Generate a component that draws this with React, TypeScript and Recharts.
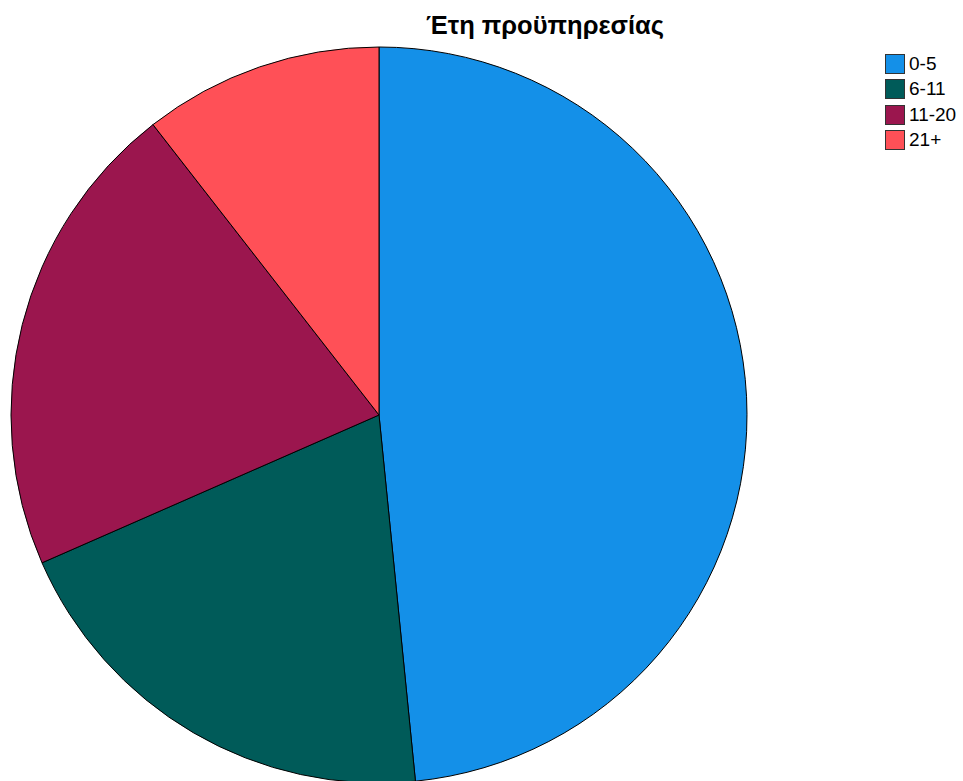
import { Cell, Pie, PieChart } from "recharts";

const categories = ["0-5", "6-11", "11-20", "21+"];
const counts = [46, 19, 20, 10];
const colors = ["#1490E8", "#005B59", "#9B164E", "#FF5057"];
const title = "Έτη προϋπηρεσίας";

const data = categories.map((name, i) => ({ name, value: counts[i] }));

const font = "'Liberation Sans', Arial, sans-serif";

function LegendBox() {
  return (
    <div style={{ position: "absolute", left: 885, top: 51 }}>
      {categories.map((c, i) => (
        <div
          key={c}
          style={{ display: "flex", alignItems: "center", height: 25.5 }}
        >
          <span
            style={{
              width: 20,
              height: 20,
              background: colors[i],
              border: "1.5px solid #333",
              boxSizing: "border-box",
              marginRight: 4,
            }}
          />
          <span style={{ fontFamily: font, fontSize: 19, color: "#000" }}>
            {c}
          </span>
        </div>
      ))}
    </div>
  );
}

export default function App() {
  return (
    <div
      style={{
        position: "absolute",
        left: 0,
        top: 0,
        width: 963,
        height: 781,
        background: "#fff",
        overflow: "hidden",
      }}
    >
      <PieChart
        width={963}
        height={781}
        margin={{ top: 0, right: 0, bottom: 0, left: 0 }}
      >
        <Pie
          data={data}
          dataKey="value"
          nameKey="name"
          cx={379}
          cy={415}
          outerRadius={368}
          startAngle={90}
          endAngle={-270}
          stroke="#000"
          strokeWidth={1}
          isAnimationActive={false}
        >
          {data.map((d, i) => (
            <Cell key={d.name} fill={colors[i]} />
          ))}
        </Pie>
      </PieChart>
      <div
        style={{
          position: "absolute",
          left: 0,
          width: 1090,
          top: 11,
          textAlign: "center",
          fontFamily: font,
          fontWeight: "bold",
          fontSize: 25.5,
          color: "#000",
        }}
      >
        {title}
      </div>
      <LegendBox />
    </div>
  );
}
